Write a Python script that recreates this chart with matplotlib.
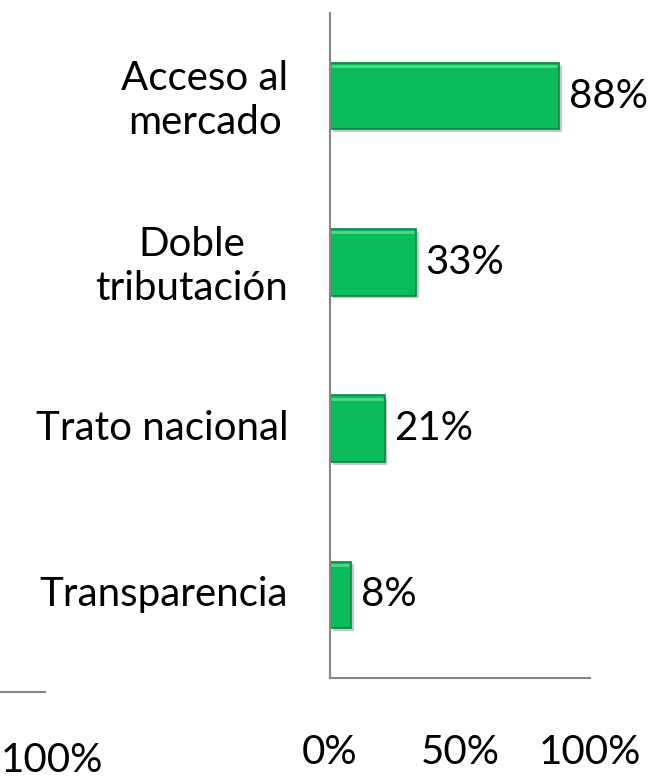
import matplotlib
matplotlib.use("Agg")
import matplotlib.pyplot as plt
import matplotlib.patheffects as pe
from matplotlib.lines import Line2D

# === Data ===
categories = ["Acceso al\nmercado", "Doble\ntributación", "Trato nacional", "Transparencia"]
values = [0.88, 0.33, 0.21, 0.08]
value_labels = ["88%", "33%", "21%", "8%"]
x_ticks = [0, 0.5, 1.0]
x_tick_labels = ["0%", "50%", "100%"]

W, H = 653, 777
plt.rcParams["font.family"] = ["Lato", "DejaVu Sans"]

fig = plt.figure(figsize=(W / 100, H / 100), dpi=100)
fig.patch.set_facecolor("white")

# axes placed in pixel coords of the reference
left, right, top, bottom = 330, 590, 13, 678
ax = fig.add_axes([left / W, (H - bottom) / H, (right - left) / W, (bottom - top) / H])

ypos = list(range(len(categories)))[::-1]
bar_h = 0.4
bars = ax.barh(ypos, values, height=bar_h, color="#0ABB5B", edgecolor="#0B8444", linewidth=1.2)
for b in bars:
    b.set_path_effects([pe.SimplePatchShadow(offset=(2, -2), alpha=0.25), pe.Normal()])

# light bevel along the top edge of each bar
for y, v in zip(ypos, values):
    ax.plot([0.004, v - 0.006], [y + bar_h / 2 - 0.02] * 2, color="#4FD98C", linewidth=2,
            solid_capstyle="butt")

ax.set_xlim(0, 1)
ax.set_ylim(-0.5, len(categories) - 0.5)

fs = 29
for y, v, lab in zip(ypos, values, value_labels):
    ax.annotate(lab, (v, y), xytext=(7, 0), textcoords="offset points",
                va="center", ha="left", fontsize=fs, color="black")

for y, cat in zip(ypos, categories):
    ax.annotate(cat, (0, y), xytext=(-30, -3 if "\n" in cat else 0), textcoords="offset points",
                va="center", ha="right", multialignment="center", linespacing=1.25,
                fontsize=fs, color="black", annotation_clip=False)

ax.set_yticks([])
ax.set_xticks(x_ticks)
ax.set_xticklabels(x_tick_labels, fontsize=fs)
ax.tick_params(axis="x", length=0, pad=40)

for s in ["top", "right"]:
    ax.spines[s].set_visible(False)
for s in ["left", "bottom"]:
    ax.spines[s].set_color("#868686")
    ax.spines[s].set_linewidth(1.5)

# leftover pieces of the neighbouring chart
fig.add_artist(Line2D([0, 45 / W], [(H - 692) / H] * 2, color="#868686", linewidth=1.5))
fig.text(1 / W, (H - 760) / H, "100%", fontsize=fs, va="center", ha="left")

fig.savefig("out.png", dpi=100)
